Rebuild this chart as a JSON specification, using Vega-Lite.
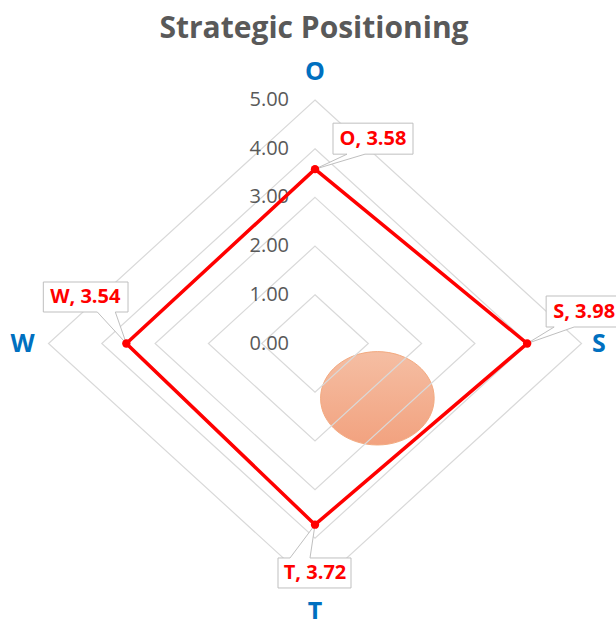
{
  "$schema": "https://vega.github.io/schema/vega-lite/v6.json",
  "width": 616,
  "height": 569,
  "autosize": {"type": "none"},
  "padding": {"top": 50, "left": 0, "right": 0, "bottom": 0},
  "background": "white",
  "config": {"view": {"stroke": null}, "font": "Open Sans"},
  "title": {
    "text": "Strategic Positioning",
    "font": "Open Sans",
    "fontSize": 30,
    "fontWeight": "bold",
    "color": "#595959",
    "anchor": "middle",
    "frame": "group",
    "baseline": "alphabetic",
    "offset": 10,
    "dx": 6,
    "dy": 28
  },
  "datasets": {
    "grid": [
      {"level": 1, "k": 0, "x": 0, "y": 1}, {"level": 1, "k": 1, "x": 1, "y": 0}, {"level": 1, "k": 2, "x": 0, "y": -1}, {"level": 1, "k": 3, "x": -1, "y": 0},
      {"level": 2, "k": 0, "x": 0, "y": 2}, {"level": 2, "k": 1, "x": 2, "y": 0}, {"level": 2, "k": 2, "x": 0, "y": -2}, {"level": 2, "k": 3, "x": -2, "y": 0},
      {"level": 3, "k": 0, "x": 0, "y": 3}, {"level": 3, "k": 1, "x": 3, "y": 0}, {"level": 3, "k": 2, "x": 0, "y": -3}, {"level": 3, "k": 3, "x": -3, "y": 0},
      {"level": 4, "k": 0, "x": 0, "y": 4}, {"level": 4, "k": 1, "x": 4, "y": 0}, {"level": 4, "k": 2, "x": 0, "y": -4}, {"level": 4, "k": 3, "x": -4, "y": 0},
      {"level": 5, "k": 0, "x": 0, "y": 5}, {"level": 5, "k": 1, "x": 5, "y": 0}, {"level": 5, "k": 2, "x": 0, "y": -5}, {"level": 5, "k": 3, "x": -5, "y": 0}
    ],
    "ticks": [
      {"x": 0, "y": 0}, {"x": 0, "y": 1}, {"x": 0, "y": 2}, {"x": 0, "y": 3}, {"x": 0, "y": 4}, {"x": 0, "y": 5}
    ],
    "scores": [
      {"axis": "O", "k": 0, "value": 3.58, "x": 0, "y": 3.58, "label": "O, 3.58"},
      {"axis": "S", "k": 1, "value": 3.98, "x": 3.98, "y": 0, "label": "S, 3.98"},
      {"axis": "T", "k": 2, "value": 3.72, "x": 0, "y": -3.72, "label": "T, 3.72"},
      {"axis": "W", "k": 3, "value": 3.54, "x": -3.54, "y": 0, "label": "W, 3.54"}
    ],
    "cats": [
      {"axis": "O", "x": 0, "y": 5},
      {"axis": "S", "x": 5, "y": 0},
      {"axis": "T", "x": 0, "y": -5},
      {"axis": "W", "x": -5, "y": 0}
    ],
    "highlight": [{"x": 1.17, "y": -1.125}]
  },
  "encoding": {
    "x": {"field": "x", "type": "quantitative", "scale": {"domain": [-5.91, 5.647], "nice": false, "zero": false}, "axis": null},
    "y": {"field": "y", "type": "quantitative", "scale": {"domain": [-5.657, 6.027], "nice": false, "zero": false}, "axis": null}
  },
  "layer": [
    {
      "data": {"values": [{}]},
      "mark": {"type": "rect", "filled": false, "stroke": "#ececec", "strokeWidth": 1, "strokeDash": [2, 2]},
      "encoding": {
        "x": {"datum": -5, "type": "quantitative"},
        "x2": {"datum": 5},
        "y": {"datum": 5, "type": "quantitative"},
        "y2": {"datum": -5}
      }
    },
    {
      "data": {"name": "highlight"},
      "mark": {
        "type": "point",
        "shape": "M-1,0A1,0.822,0,1,1,1,0A1,0.822,0,1,1,-1,0Z",
        "size": 12905,
        "filled": true,
        "opacity": 1,
        "fill": {"gradient": "linear", "x1": 0, "y1": 0, "x2": 0, "y2": 1, "stops": [{"offset": 0, "color": "#F5BEA3"}, {"offset": 1, "color": "#F2A27F"}]},
        "stroke": "#F3AA80",
        "strokeWidth": 1
      }
    },
    {
      "data": {"name": "grid"},
      "mark": {"type": "line", "interpolate": "linear-closed", "color": "#d9d9d9", "strokeWidth": 1.2},
      "encoding": {"detail": {"field": "level"}, "order": {"field": "k"}}
    },
    {
      "data": {"name": "ticks"},
      "mark": {"type": "text", "align": "right", "baseline": "middle", "dx": -26, "fontSize": 20, "color": "#595959"},
      "encoding": {"text": {"field": "y", "type": "quantitative", "format": ".2f"}}
    },
    {
      "data": {"name": "scores"},
      "mark": {"type": "line", "interpolate": "linear-closed", "color": "#FF0000", "strokeWidth": 3.5},
      "encoding": {"order": {"field": "k"}}
    },
    {
      "data": {"name": "scores"},
      "transform": [{"filter": "datum.axis === 'O'"}],
      "mark": {"type": "point", "shape": "M18,-46H98V-15H50L0,0L32,-15H18Z", "size": 4, "filled": true, "fill": "white", "stroke": "#bfbfbf", "strokeWidth": 1, "opacity": 1}
    },
    {
      "data": {"name": "scores"},
      "transform": [{"filter": "datum.axis === 'S'"}],
      "mark": {"type": "point", "shape": "M19,-47.5H95V-16.5H47L0,0L27,-16.5H19Z", "size": 4, "filled": true, "fill": "white", "stroke": "#bfbfbf", "strokeWidth": 1, "opacity": 1}
    },
    {
      "data": {"name": "scores"},
      "transform": [{"filter": "datum.axis === 'T'"}],
      "mark": {"type": "point", "shape": "M-37,33.3H-25L0,0L-5,33.3H36V63.3H-37Z", "size": 4, "filled": true, "fill": "white", "stroke": "#bfbfbf", "strokeWidth": 1, "opacity": 1}
    },
    {
      "data": {"name": "scores"},
      "transform": [{"filter": "datum.axis === 'W'"}],
      "mark": {"type": "point", "shape": "M-83,-61.5H1.7V-31.5H-11L0,0L-29,-31.5H-83Z", "size": 4, "filled": true, "fill": "white", "stroke": "#bfbfbf", "strokeWidth": 1, "opacity": 1}
    },
    {
      "data": {"name": "scores"},
      "mark": {"type": "point", "filled": true, "color": "#FF0000", "size": 70, "opacity": 1}
    },
    {
      "data": {"name": "scores"},
      "transform": [{"filter": "datum.axis === 'O'"}],
      "mark": {"type": "text", "dx": 58, "dy": -30.5, "fontSize": 20, "fontWeight": "bold", "color": "#FF0000", "align": "center", "baseline": "middle"},
      "encoding": {"text": {"field": "label"}}
    },
    {
      "data": {"name": "scores"},
      "transform": [{"filter": "datum.axis === 'S'"}],
      "mark": {"type": "text", "dx": 57, "dy": -32, "fontSize": 20, "fontWeight": "bold", "color": "#FF0000", "align": "center", "baseline": "middle"},
      "encoding": {"text": {"field": "label"}}
    },
    {
      "data": {"name": "scores"},
      "transform": [{"filter": "datum.axis === 'T'"}],
      "mark": {"type": "text", "dx": 0, "dy": 48.5, "fontSize": 20, "fontWeight": "bold", "color": "#FF0000", "align": "center", "baseline": "middle"},
      "encoding": {"text": {"field": "label"}}
    },
    {
      "data": {"name": "scores"},
      "transform": [{"filter": "datum.axis === 'W'"}],
      "mark": {"type": "text", "dx": -41, "dy": -46.5, "fontSize": 20, "fontWeight": "bold", "color": "#FF0000", "align": "center", "baseline": "middle"},
      "encoding": {"text": {"field": "label"}}
    },
    {
      "data": {"name": "cats"},
      "transform": [{"filter": "datum.axis === 'O'"}],
      "mark": {"type": "text", "dy": -28.5, "fontSize": 25, "fontWeight": "bold", "color": "#0070C0", "align": "center", "baseline": "middle"},
      "encoding": {"text": {"field": "axis"}}
    },
    {
      "data": {"name": "cats"},
      "transform": [{"filter": "datum.axis === 'S'"}],
      "mark": {"type": "text", "dx": 17.5, "fontSize": 25, "fontWeight": "bold", "color": "#0070C0", "align": "center", "baseline": "middle"},
      "encoding": {"text": {"field": "axis"}}
    },
    {
      "data": {"name": "cats"},
      "transform": [{"filter": "datum.axis === 'T'"}],
      "mark": {"type": "text", "dy": 24.5, "fontSize": 25, "fontWeight": "bold", "color": "#0070C0", "align": "center", "baseline": "middle"},
      "encoding": {"text": {"field": "axis"}}
    },
    {
      "data": {"name": "cats"},
      "transform": [{"filter": "datum.axis === 'W'"}],
      "mark": {"type": "text", "dx": -26, "fontSize": 25, "fontWeight": "bold", "color": "#0070C0", "align": "center", "baseline": "middle"},
      "encoding": {"text": {"field": "axis"}}
    }
  ]
}
